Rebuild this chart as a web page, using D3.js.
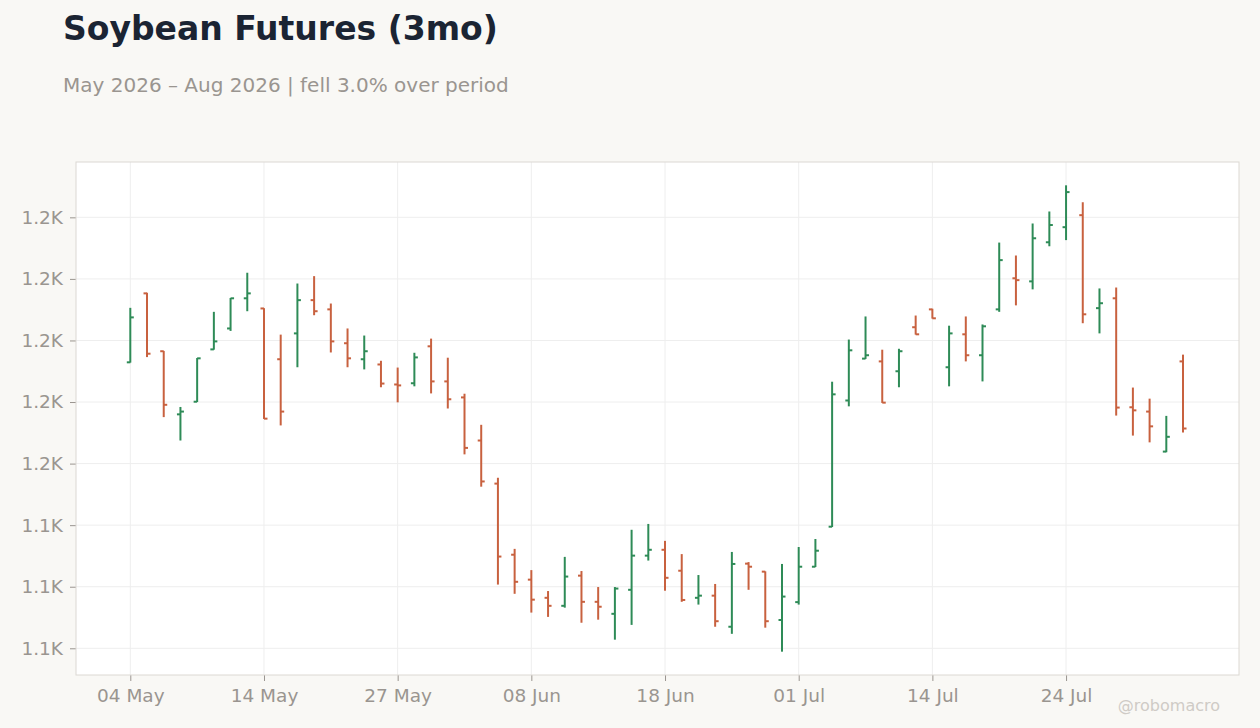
<!DOCTYPE html>
<html>
<head>
<meta charset="utf-8">
<script src="https://cdn.jsdelivr.net/npm/d3@7"></script>
<style>
  body { margin: 0; background: #f9f8f5; font-family: "DejaVu Sans", sans-serif; }
  svg { display: block; }
</style>
</head>
<body>
<svg id="chart" width="1260" height="728"></svg>
<script>
// trading days, one per bar
const dates = [
  "2026-05-04","2026-05-05","2026-05-06","2026-05-07","2026-05-08",
  "2026-05-11","2026-05-12","2026-05-13","2026-05-14","2026-05-15",
  "2026-05-18","2026-05-19","2026-05-20","2026-05-21","2026-05-22",
  "2026-05-26","2026-05-27","2026-05-28","2026-05-29",
  "2026-06-01","2026-06-02","2026-06-03","2026-06-04","2026-06-05",
  "2026-06-08","2026-06-09","2026-06-10","2026-06-11","2026-06-12",
  "2026-06-15","2026-06-16","2026-06-17","2026-06-18",
  "2026-06-22","2026-06-23","2026-06-24","2026-06-25","2026-06-26",
  "2026-06-29","2026-06-30","2026-07-01","2026-07-02",
  "2026-07-06","2026-07-07","2026-07-08","2026-07-09","2026-07-10",
  "2026-07-13","2026-07-14","2026-07-15","2026-07-16","2026-07-17",
  "2026-07-20","2026-07-21","2026-07-22","2026-07-23","2026-07-24",
  "2026-07-27","2026-07-28","2026-07-29","2026-07-30","2026-07-31",
  "2026-08-03","2026-08-04"
];

const opens = [
  1192.9, 1215.3, 1196.5, 1176.0, 1180.1, 1197.1, 1203.9, 1213.7, 1210.4, 1193.9,
  1202.3, 1213.1, 1210.1, 1199.1, 1193.9, 1192.2, 1185.7, 1186.1, 1198.1, 1186.7,
  1181.5, 1167.5, 1153.5, 1130.4, 1122.3, 1116.4, 1113.8, 1123.6, 1115.1, 1111.2,
  1119.0, 1130.1, 1132.0, 1125.2, 1116.4, 1117.1, 1107.0, 1127.5, 1124.9, 1109.2,
  1115.0, 1126.5, 1139.5, 1180.5, 1194.1, 1193.2, 1190.0, 1204.3, 1210.1, 1191.3,
  1202.0, 1195.2, 1210.1, 1220.2, 1219.2, 1231.9, 1236.8, 1240.7, 1210.5, 1213.7,
  1178.3, 1176.9, 1163.9, 1193.2
];
const highs = [
  1210.6, 1215.5, 1196.6, 1178.4, 1194.3, 1209.3, 1213.8, 1222.0, 1210.5, 1201.9,
  1218.5, 1220.9, 1212.0, 1203.9, 1201.6, 1193.4, 1191.2, 1196.0, 1200.6, 1194.4,
  1182.7, 1172.6, 1155.4, 1132.3, 1125.4, 1118.6, 1129.7, 1125.1, 1119.9, 1119.9,
  1138.5, 1140.4, 1134.9, 1130.6, 1123.8, 1120.9, 1131.3, 1128.0, 1125.0, 1127.4,
  1132.9, 1135.5, 1186.6, 1200.3, 1207.8, 1197.0, 1197.3, 1208.1, 1210.3, 1204.8,
  1207.8, 1205.2, 1231.8, 1227.6, 1238.0, 1241.9, 1250.4, 1244.9, 1216.9, 1217.2,
  1184.7, 1181.1, 1175.5, 1195.4
];
const lows = [
  1192.8, 1194.6, 1175.1, 1167.5, 1180.0, 1197.0, 1203.1, 1209.5, 1174.5, 1172.4,
  1191.3, 1208.2, 1196.1, 1191.3, 1190.6, 1184.8, 1179.9, 1185.1, 1182.8, 1177.9,
  1163.0, 1152.5, 1120.7, 1117.7, 1111.6, 1110.2, 1113.2, 1108.3, 1109.3, 1102.8,
  1107.6, 1128.5, 1118.7, 1115.1, 1114.2, 1107.0, 1104.7, 1119.0, 1106.7, 1098.9,
  1114.2, 1126.4, 1139.4, 1178.6, 1194.0, 1179.7, 1184.8, 1201.9, 1207.1, 1185.1,
  1193.2, 1186.7, 1209.3, 1211.4, 1216.6, 1230.6, 1232.6, 1205.6, 1202.3, 1175.6,
  1169.1, 1166.9, 1163.7, 1170.1
];
const closes = [
  1207.5, 1195.7, 1179.1, 1176.9, 1194.2, 1199.7, 1213.7, 1215.3, 1174.6, 1176.9,
  1213.1, 1209.5, 1199.7, 1194.2, 1196.5, 1186.0, 1185.4, 1194.5, 1186.7, 1180.9,
  1165.1, 1154.2, 1129.8, 1121.6, 1115.8, 1113.8, 1123.3, 1115.1, 1113.5, 1119.4,
  1130.1, 1132.0, 1122.9, 1115.7, 1117.1, 1108.8, 1127.4, 1126.5, 1108.8, 1116.8,
  1126.5, 1131.7, 1182.5, 1196.8, 1195.2, 1179.8, 1196.5, 1202.0, 1207.2, 1202.3,
  1195.2, 1204.6, 1226.1, 1219.6, 1233.2, 1237.5, 1248.2, 1208.5, 1212.1, 1178.2,
  1177.3, 1172.1, 1168.7, 1171.4
];

// x tick every 8 bars
const xTickIdx = [0, 8, 16, 24, 32, 40, 48, 56];

const UP = "#2e8b57";
const DOWN = "#c8613f";

const svg = d3.select("#chart");
const W = 1260, H = 728;
const margin = { top: 162, right: 21, bottom: 53, left: 76 };
const plotW = W - margin.left - margin.right;
const plotH = H - margin.top - margin.bottom;

const parse = d3.timeParse("%Y-%m-%d");
const fmtDate = d3.timeFormat("%d %b");

const bars = dates.map((d, i) => ({
  i: i, date: parse(d), o: opens[i], h: highs[i], l: lows[i], c: closes[i]
}));

// title + subtitle
svg.append("text")
  .attr("x", 63).attr("y", 40)
  .attr("font-size", 33).attr("font-weight", "bold")
  .attr("fill", "#1b2433")
  .text("Soybean Futures (3mo)");

svg.append("text")
  .attr("x", 63).attr("y", 92)
  .attr("font-size", 20).attr("fill", "#9a9590")
  .text("May 2026 \u2013 Aug 2026 | fell 3.0% over period");

const g = svg.append("g").attr("transform", `translate(${margin.left},${margin.top})`);

g.append("rect")
  .attr("width", plotW).attr("height", plotH)
  .attr("fill", "#ffffff");

// scales
const x = d3.scaleLinear().domain([-3.25, dates.length + 2.35]).range([0, plotW]);
const lo = d3.min(lows), hi = d3.max(highs);
const pad = (hi - lo) * 0.05;
const y = d3.scaleLinear().domain([lo - pad, hi + pad]).range([plotH, 0]);

const fmtK = (v) => d3.format(".2s")(v).replace("k", "K");

// grid
g.append("g").selectAll("line")
  .data(y.ticks())
  .join("line")
  .attr("x1", 0).attr("x2", plotW)
  .attr("y1", (d) => y(d)).attr("y2", (d) => y(d))
  .attr("stroke", "#eeeeee");

g.append("g").selectAll("line")
  .data(xTickIdx)
  .join("line")
  .attr("x1", (d) => x(d)).attr("x2", (d) => x(d))
  .attr("y1", 0).attr("y2", plotH)
  .attr("stroke", "#eeeeee");

// axes
const yAxis = g.append("g")
  .call(d3.axisLeft(y).tickFormat(fmtK).tickSize(6).tickPadding(7));
const xAxis = g.append("g")
  .attr("transform", `translate(0,${plotH})`)
  .call(d3.axisBottom(x).tickValues(xTickIdx)
    .tickFormat((i) => fmtDate(bars[i].date)).tickSize(6).tickPadding(8));

[yAxis, xAxis].forEach((ax) => {
  ax.select(".domain").remove();
  ax.selectAll(".tick line").attr("stroke", "#9a9590");
  ax.selectAll(".tick text")
    .attr("fill", "#9a9590")
    .attr("font-size", 18.5)
    .attr("font-family", "DejaVu Sans, sans-serif");
});

// frame
g.append("rect")
  .attr("width", plotW).attr("height", plotH)
  .attr("fill", "none").attr("stroke", "#dcd8d3");

// OHLC bars
const tickLen = 3.5;
const bar = g.append("g").selectAll("g")
  .data(bars)
  .join("g")
  .attr("stroke", (d) => d.c >= d.o ? UP : DOWN)
  .attr("stroke-width", 2);

bar.append("line")
  .attr("x1", (d) => x(d.i)).attr("x2", (d) => x(d.i))
  .attr("y1", (d) => y(d.h)).attr("y2", (d) => y(d.l));

bar.append("line")
  .attr("x1", (d) => x(d.i) - tickLen).attr("x2", (d) => x(d.i))
  .attr("y1", (d) => y(d.o)).attr("y2", (d) => y(d.o));

bar.append("line")
  .attr("x1", (d) => x(d.i)).attr("x2", (d) => x(d.i) + tickLen)
  .attr("y1", (d) => y(d.c)).attr("y2", (d) => y(d.c));

// watermark
svg.append("text")
  .attr("x", 1220).attr("y", 711)
  .attr("text-anchor", "end")
  .attr("font-size", 16).attr("fill", "#cfcbc6")
  .text("@robomacro");
</script>
</body>
</html>
